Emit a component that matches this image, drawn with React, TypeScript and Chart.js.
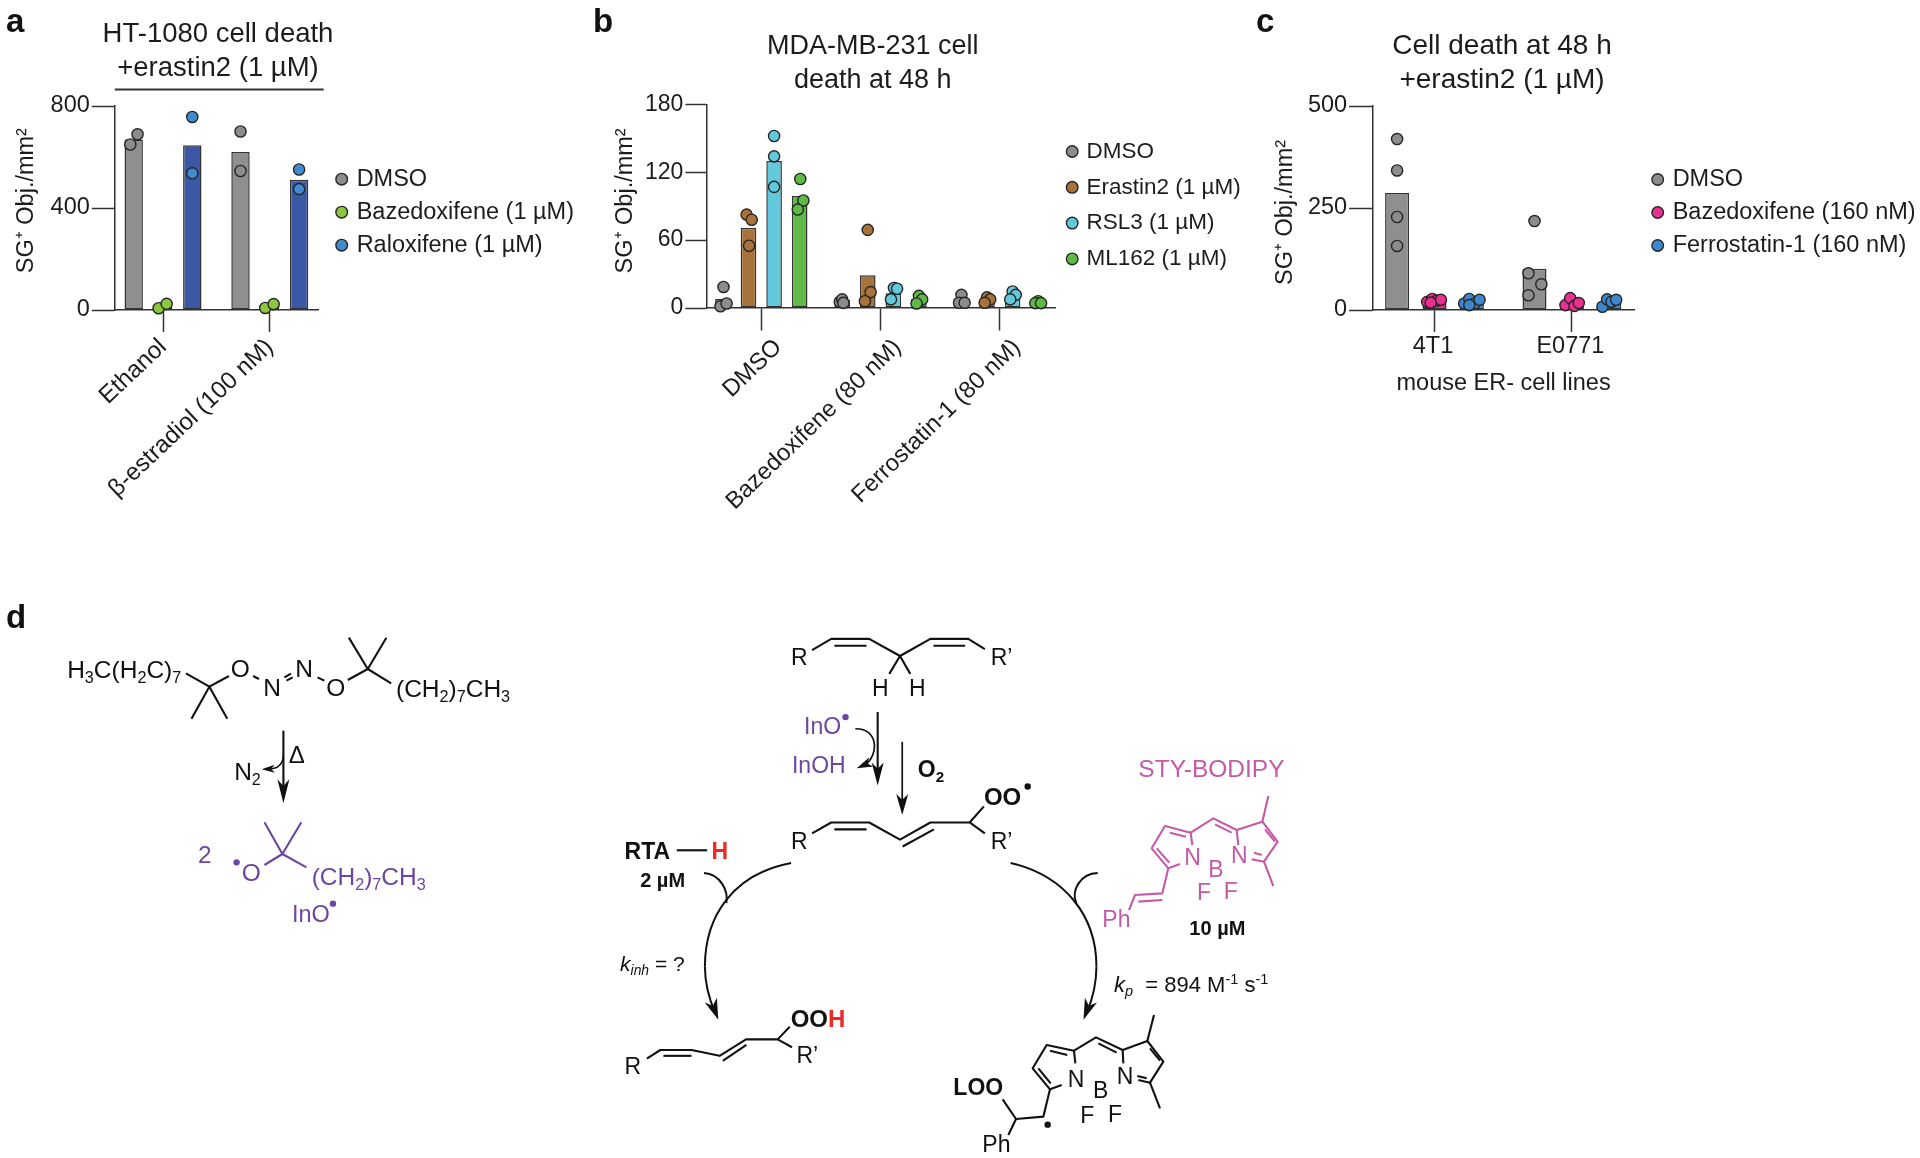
import React, { useEffect, useRef } from "react";
import { Chart, registerables } from "chart.js";

Chart.register(...registerables);

const FONT = "'Liberation Sans', Arial, sans-serif";
const INK = "#1c1c1c";
const Y_LABEL = "SG⁺ Obj./mm²";

// ---------- panel a ----------
const A_TITLE = ["HT-1080 cell death", "+erastin2 (1 µM)"];
const A_GROUPS = ["Ethanol", "β-estradiol (100 nM)"];
const A_TICKS = [0, 400, 800];
const A_NAMES = ["DMSO", "Bazedoxifene (1 µM)", "Raloxifene (1 µM)"];
const A_MEANS = [
  [669, 620],
  [16, 15],
  [646, 511],
];
const A_POINTS = [
  [[649, 689], [700, 545]],
  [[7, 24], [8, 23]],
  [[757, 536], [551, 474]],
];
const A_JITTER = [
  [[-0.032, 0.036], [0, 0]],
  [[-0.041, 0.034], [-0.043, 0.036]],
  [[0, 0], [0, 0]],
];

// ---------- panel b ----------
const B_TITLE = ["MDA-MB-231 cell", "death at 48 h"];
const B_GROUPS = ["DMSO", "Bazedoxifene (80 nM)", "Ferrostatin-1 (80 nM)"];
const B_TICKS = [0, 60, 120, 180];
const B_NAMES = ["DMSO", "Erastin2 (1 µM)", "RSL3 (1 µM)", "ML162 (1 µM)"];
const B_MEANS = [
  [8, 7, 8],
  [71, 29, 7],
  [130, 13, 10],
  [99, 8, 5],
];
const B_POINTS = [
  [[18.6, 1.5, 4], [5.5, 7.6, 4.5], [11.6, 4.6, 4.6]],
  [[82.5, 78, 55], [69, 14, 6], [9.4, 7.6, 4.6]],
  [[152, 134, 107], [17.7, 17, 7.6], [14.6, 11.6, 7.6]],
  [[114, 95, 87], [10.7, 7.6, 4], [6, 4.3, 4.3]],
];
const B_JITTER = [
  [[0.005, -0.02, 0.031], [-0.02, 0, 0.01], [0, -0.02, 0.027]],
  [[-0.016, 0.027, 0.005], [0, 0.024, -0.024], [0, 0.027, -0.02]],
  [[0, 0, 0], [0.005, 0.031, -0.02], [0, 0.027, -0.02]],
  [[0.005, 0.031, -0.016], [0, 0.027, -0.02], [0, -0.024, 0.024]],
];

// ---------- panel c ----------
const C_TITLE = ["Cell death at 48 h", "+erastin2 (1 µM)"];
const C_GROUPS = ["4T1", "E0771"];
const C_TICKS = [0, 250, 500];
const C_XLABEL = "mouse ER- cell lines";
const C_NAMES = ["DMSO", "Bazedoxifene (160 nM)", "Ferrostatin-1 (160 nM)"];
const C_MEANS = [
  [287, 101],
  [22, 17],
  [20, 19],
];
const C_POINTS = [
  [[419, 342, 228, 157], [218, 90, 63, 36]],
  [[20, 27, 23, 25, 18], [12, 29, 10, 17]],
  [[16, 27, 16, 25, 12], [8, 26, 20, 25]],
];
const C_JITTER = [
  [[0, 0, 0, 0], [0, -0.044, 0.05, -0.044]],
  [[-0.053, -0.016, 0.016, 0.047, -0.028], [-0.047, -0.012, 0.019, 0.05]],
  [[-0.056, -0.019, 0.019, 0.056, -0.019], [-0.05, -0.016, 0.016, 0.05]],
];

const PANELS: any[] = [
  {
    title: A_TITLE, groups: A_GROUPS, yTicks: A_TICKS, names: A_NAMES, means: A_MEANS, points: A_POINTS, jitter: A_JITTER,
    barFill: ["#8f8f8f", "#8ec63f", "#3a58a6"], dotFill: ["#8c8c8c", "#8ec63f", "#3f8bd0"],
    left: 0, width: 580, height: 540,
    axisX: 114.4, rightX: 318.4, topY: 106, bottomY: 310, x0: 163, step: 106.8,
    barStep: 0.2743, barPct: 0.628, tickLenY: 22.6, tickLenX: 22, rot: 43.5, tickPad: 1, xFont: 24.2, xOffset: 0,
    titleSize: 27.5, titleLH: 34.4, titleCenter: 218, titlePadTop: 17.3,
    font: 23.5, yFont: 23.5, yTitlePad: 12.1, yShift: -7.4,
    legendX: 341.7, legendY: 179.2, legendRow: 33, boxW: 6.4,
  },
  {
    title: B_TITLE, groups: B_GROUPS, yTicks: B_TICKS, names: B_NAMES, means: B_MEANS, points: B_POINTS, jitter: B_JITTER,
    barFill: ["#8c8c8c", "#a8733a", "#62c9dc", "#5eb947"], dotFill: ["#8c8c8c", "#a8733a", "#62c9dc", "#5eb947"],
    left: 580, width: 670, height: 540,
    axisX: 707, rightX: 1055.7, topY: 104.3, bottomY: 308, x0: 761.3, step: 119.25,
    barStep: 0.2146, barPct: 0.61, tickLenY: 21.6, tickLenX: 22.5, rot: 44, tickPad: 3, xFont: 23.8, xOffset: 17,
    titleSize: 27, titleLH: 34, titleCenter: 872.7, titlePadTop: 29.3,
    font: 22.5, yFont: 23, yTitlePad: 31.9, yShift: -5.3,
    legendX: 1072.2, legendY: 151.5, legendRow: 35.8, boxW: 6.2,
  },
  {
    title: C_TITLE, groups: C_GROUPS, yTicks: C_TICKS, names: C_NAMES, means: C_MEANS, points: C_POINTS, jitter: C_JITTER,
    barFill: ["#8f8f8f", "#e8308f", "#3d87cc"], dotFill: ["#8c8c8c", "#e8308f", "#3d87cc"],
    left: 1250, width: 670, height: 540,
    axisX: 1372.6, rightX: 1634.6, topY: 106, bottomY: 310, x0: 1434.5, step: 137.4,
    barStep: 0.2722, barPct: 0.642, tickLenY: 23.5, tickLenX: 22, rot: 0, tickPad: 0, xFont: 23.5, xOffset: -1.5,
    titleSize: 28, titleLH: 33.7, titleCenter: 1502, titlePadTop: 29.3,
    font: 23.5, yFont: 23.5, yTitlePad: 21.7, yShift: 4.5, xTitle: C_XLABEL, xTitlePad: 142,
    legendX: 1657.7, legendY: 179.5, legendRow: 33, boxW: 6.4,
  },
];

function buildChart(canvas: HTMLCanvasElement, p: any) {
  const n = p.names.length;
  const bars = p.means.map((vals: number[], s: number) => ({
    type: "bar",
    label: p.names[s] + " mean",
    data: vals.map((y, i) => ({ x: i, y })),
    backgroundColor: p.barFill[s],
    borderColor: "#333333",
    borderWidth: 1.5,
    borderSkipped: false,
    categoryPercentage: n * p.barStep,
    barPercentage: p.barPct,
    order: 2,
  }));
  const dots = p.points.map((groups: number[][], s: number) => ({
    type: "scatter",
    label: p.names[s],
    data: groups.flatMap((vals, i) =>
      vals.map((y, k) => ({ x: i + (s - (n - 1) / 2) * p.barStep + p.jitter[s][i][k], y }))
    ),
    backgroundColor: p.dotFill[s],
    borderColor: "#262626",
    borderWidth: 1.4,
    pointRadius: 5.6,
    pointStyle: "circle",
    clip: false,
    order: 1,
  }));
  const legendPad = p.legendRow - p.font;
  const boxH = 8.2;
  const place = {
    id: "place",
    afterLayout(chart: any) {
      const t = chart.titleBlock;
      const dx = p.titleCenter - p.left - (t.left + t.right) / 2;
      t.left += dx;
      t.right += dx;
      const l = chart.legend;
      l.left = p.legendX - p.left - legendPad - p.boxW / 2;
      l.right = l.left + 400;
      l.top = p.legendY - legendPad - p.font / 2;
      l.bottom = l.top + 300;
      const yScale = chart.scales.y;
      if (!yScale.__shifted) {
        yScale.__shifted = true;
        const orig = yScale.drawTitle;
        yScale.drawTitle = function () {
          chart.ctx.save();
          chart.ctx.translate(0, p.yShift);
          orig.call(yScale);
          chart.ctx.restore();
        };
      }
    },
  };
  return new Chart(canvas, {
    type: "bar",
    data: { datasets: [...bars, ...dots] },
    plugins: [place],
    options: {
      animation: false,
      responsive: false,
      maintainAspectRatio: false,
      layout: { padding: { left: 0, top: 0, bottom: 0, right: p.left + p.width - p.rightX } },
      plugins: {
        tooltip: { enabled: false },
        title: {
          display: true,
          text: p.title,
          color: INK,
          font: { family: FONT, size: p.titleSize, weight: "normal", lineHeight: p.titleLH + "px" },
          padding: { top: p.titlePadTop, bottom: p.topY - p.titlePadTop - 2 * p.titleLH },
        },
        legend: {
          display: true,
          position: "chartArea",
          align: "start",
          labels: {
            usePointStyle: true,
            pointStyle: "circle",
            boxWidth: p.boxW,
            boxHeight: boxH,
            padding: legendPad,
            color: INK,
            font: { family: FONT, size: p.font },
            filter: (item: any, d: any) => d.datasets[item.datasetIndex].type === "scatter",
          },
        },
      },
      scales: {
        x: {
          type: "linear",
          offset: false,
          min: (p.axisX - p.x0) / p.step,
          max: (p.rightX - p.x0) / p.step,
          afterBuildTicks: (axis: any) => {
            axis.ticks = p.groups.map((_: string, i: number) => ({ value: i }));
          },
          afterFit: (axis: any) => {
            axis.height = p.height - p.bottomY;
          },
          grid: { offset: false, drawOnChartArea: false, drawTicks: true, tickLength: p.tickLenX, tickWidth: 1.5, tickColor: "#333333" },
          border: { display: true, color: "#333333", width: 1.5 },
          title: p.xTitle
            ? { display: true, text: p.xTitle, color: INK, font: { family: FONT, size: p.font }, padding: { top: 0, bottom: p.xTitlePad } }
            : { display: false },
          ticks: {
            autoSkip: false,
            minRotation: p.rot,
            maxRotation: p.rot,
            padding: p.tickPad,
            labelOffset: p.xOffset,
            color: INK,
            font: { family: FONT, size: p.xFont },
            callback: (v: number) => p.groups[v],
          },
        },
        y: {
          type: "linear",
          min: 0,
          max: p.yTicks[p.yTicks.length - 1],
          afterBuildTicks: (axis: any) => {
            axis.ticks = p.yTicks.map((value: number) => ({ value }));
          },
          afterFit: (axis: any) => {
            axis.width = p.axisX - p.left;
          },
          grid: { drawOnChartArea: false, drawTicks: true, tickLength: p.tickLenY, tickWidth: 1.5, tickColor: "#333333" },
          border: { display: true, color: "#333333", width: 1.5 },
          title: {
            display: true,
            text: Y_LABEL,
            color: INK,
            font: { family: FONT, size: 23.5 },
            padding: { top: p.yTitlePad, bottom: 0 },
          },
          ticks: { padding: 2, color: INK, font: { family: FONT, size: p.yFont } },
        },
      },
    } as any,
  } as any);
}

// ---------- chemistry scheme helpers ----------
type Pt = [number, number];
const mk = (ox: number, oy: number, fx: number, fy: number) => (x: number, y: number): Pt => [ox + x / fx, oy + y / fy];
const A = mk(0, 590, 2.904, 3);
const B = mk(600, 620, 2.24, 2.914);
const C = mk(950, 720, 3, 3);
const BLACK = "#111111";
const PURPLE = "#6d46a0";
const PINK = "#c45aa8";
const RED = "#ee2a24";

function Bond({ m, pts, c = BLACK, w = 2.1 }: any) {
  const s = pts.map(([x, y]: Pt) => m(x, y).join(",")).join(" ");
  return <polyline points={s} fill="none" stroke={c} strokeWidth={w} strokeLinejoin="round" />;
}

function Curve({ m, pts, c = BLACK, w = 2 }: any) {
  const q = pts.map(([x, y]: Pt) => m(x, y).join(" "));
  return <path d={`M${q[0]} C${q.slice(1).join(" ")}`} fill="none" stroke={c} strokeWidth={w} />;
}

function Head({ m, tip, from, len = 21, hw = 6.5, c = BLACK }: any) {
  const t = m(tip[0], tip[1]);
  const f = m(from[0], from[1]);
  const d = Math.hypot(t[0] - f[0], t[1] - f[1]);
  const ux = (t[0] - f[0]) / d;
  const uy = (t[1] - f[1]) / d;
  const bx = t[0] - ux * len;
  const by = t[1] - uy * len;
  const nx = t[0] - ux * len * 0.72;
  const ny = t[1] - uy * len * 0.72;
  const pts = [t, [bx - uy * hw, by + ux * hw], [nx, ny], [bx + uy * hw, by - ux * hw]];
  return <polygon points={pts.map((q) => q.join(",")).join(" ")} fill={c} />;
}

function Dot({ m, x, y, r = 3.2, c = BLACK }: any) {
  const q = m(x, y);
  return <circle cx={q[0]} cy={q[1]} r={r} fill={c} />;
}

function Txt({ m, x, y, s = 23, c = BLACK, b = false, i = false, a = "start", t }: any) {
  const q = m(x, y);
  const segs: any[] = typeof t === "string" ? [[t, 0]] : t;
  let shift = 0;
  return (
    <text x={q[0]} y={q[1]} fontSize={s} fill={c} textAnchor={a} fontWeight={b ? "bold" : "normal"} fontStyle={i ? "italic" : "normal"} fontFamily={FONT} style={{ whiteSpace: "pre" }}>
      {segs.map(([str, kind, col, it], k) => {
        const target = kind === 1 ? 0.2 * s : kind === 2 ? -0.36 * s : 0;
        const dy = target - shift;
        shift = target;
        return (
          <tspan key={k} dy={dy} fontSize={kind ? s * 0.66 : s} fill={col || c} fontStyle={it ? "italic" : undefined}>
            {str}
          </tspan>
        );
      })}
    </text>
  );
}

const id = (x: number, y: number): Pt => [x, y];

function Scheme() {
  return (
    <svg width={1920} height={1158} style={{ position: "absolute", left: 0, top: 0, pointerEvents: "none" }}>
      <Txt m={id} x={6} y={31.7} s={33} b t="a" />
      <Txt m={id} x={593} y={31.7} s={33} b t="b" />
      <Txt m={id} x={1256} y={31.7} s={33} b t="c" />
      <Txt m={id} x={6} y={628.3} s={33} b t="d" />
      <line x1={114.8} x2={323.7} y1={89.5} y2={89.5} stroke="#333333" strokeWidth={1.8} />

      {/* initiator */}
      <Txt m={A} x={195} y={265} s={24.5} t={[["H", 0], ["3", 1], ["C(H", 0], ["2", 1], ["C)", 0], ["7", 1]]} />
      <Bond m={A} pts={[[540, 250], [608, 290], [665, 258]]} />
      <Bond m={A} pts={[[556, 386], [608, 290], [660, 386]]} />
      <Txt m={A} x={698} y={262} s={24.5} a="middle" t="O" />
      <Bond m={A} pts={[[735, 258], [752, 267]]} />
      <Txt m={A} x={790} y={318} s={24.5} a="middle" t="N" />
      <Bond m={A} pts={[[826, 262], [845, 251]]} />
      <Bond m={A} pts={[[832, 272], [850, 262]]} />
      <Txt m={A} x={883} y={262} s={24.5} a="middle" t="N" />
      <Bond m={A} pts={[[922, 262], [942, 272]]} />
      <Txt m={A} x={975} y={318} s={24.5} a="middle" t="O" />
      <Bond m={A} pts={[[1010, 270], [1068, 237], [1136, 280]]} />
      <Bond m={A} pts={[[1013, 143], [1068, 237], [1122, 143]]} />
      <Txt m={A} x={1150} y={322} s={24.5} t={[["(CH", 0], ["2", 1], [")", 0], ["7", 1], ["CH", 0], ["3", 1]]} />
      <Bond m={A} pts={[[823, 422], [823, 600]]} />
      <Head m={A} tip={[823, 640]} from={[823, 500]} len={24} hw={6} />
      <Curve m={A} pts={[[823, 495], [822, 525], [805, 537], [780, 537]]} w={1.6} />
      <Head m={A} tip={[760, 538]} from={[810, 536]} len={13} hw={4} />
      <Txt m={A} x={862} y={520} s={24} a="middle" t="Δ" />
      <Txt m={A} x={680} y={570} s={24.5} t={[["N", 0], ["2", 1]]} />
      <Txt m={A} x={575} y={820} s={24.5} c={PURPLE} t="2" />
      <Dot m={A} x={687} y={817} c={PURPLE} />
      <Txt m={A} x={730} y={872} s={24.5} c={PURPLE} a="middle" t="O" />
      <Bond m={A} c={PURPLE} pts={[[768, 825], [820, 792], [890, 832]]} />
      <Bond m={A} c={PURPLE} pts={[[768, 697], [820, 792], [875, 697]]} />
      <Txt m={A} x={905} y={885} s={24.5} c={PURPLE} t={[["(CH", 0], ["2", 1], [")", 0], ["7", 1], ["CH", 0], ["3", 1]]} />
      <Txt m={A} x={848} y={995} s={23.5} c={PURPLE} t="InO" />
      <Dot m={A} x={967} y={941} c={PURPLE} />

      {/* top lipid */}
      <Txt m={B} x={428} y={130} t="R" />
      <Txt m={B} x={875} y={130} t="R’" />
      <Bond m={B} pts={[[475, 88], [518, 55], [603, 55], [672, 105], [740, 55], [825, 55], [862, 85]]} />
      <Bond m={B} pts={[[525, 75], [597, 75]]} />
      <Bond m={B} pts={[[747, 75], [818, 75]]} />
      <Bond m={B} pts={[[648, 157], [672, 105], [695, 157]]} />
      <Txt m={B} x={628} y={222} a="middle" t="H" />
      <Txt m={B} x={711} y={222} a="middle" t="H" />
      <Bond m={B} pts={[[622, 268], [622, 450]]} />
      <Head m={B} tip={[622, 482]} from={[622, 400]} len={23} hw={6} />
      <Bond m={B} pts={[[677, 355], [677, 530]]} w={1.7} />
      <Head m={B} tip={[677, 568]} from={[677, 480]} len={21} hw={6} />
      <Txt m={B} x={457} y={333} s={23} c={PURPLE} t="InO" />
      <Dot m={B} x={550} y={283} c={PURPLE} />
      <Txt m={B} x={430} y={445} s={23} c={PURPLE} t="InOH" />
      <Curve m={B} pts={[[572, 317], [625, 315], [625, 395], [592, 425]]} w={1.7} />
      <Head m={B} tip={[575, 432]} from={[610, 412]} len={16} hw={5} />
      <Txt m={B} x={712} y={458} s={23} b t={[["O", 0], ["2", 1]]} />

      {/* peroxyl */}
      <Txt m={B} x={428} y={667} t="R" />
      <Txt m={B} x={875} y={667} t="R’" />
      <Bond m={B} pts={[[475, 622], [518, 590], [603, 590], [672, 640], [740, 590], [828, 590], [862, 622]]} />
      <Bond m={B} pts={[[525, 610], [597, 610]]} />
      <Bond m={B} pts={[[678, 660], [748, 610]]} />
      <Bond m={B} pts={[[828, 590], [860, 543]]} />
      <Txt m={B} x={860} y={540} s={24} b t="OO" />
      <Dot m={B} x={958} y={485} />
      <Txt m={B} x={55} y={695} s={23} b t="RTA" />
      <Bond m={B} pts={[[172, 671], [240, 671]]} />
      <Txt m={B} x={250} y={695} s={23} b c={RED} t="H" />
      <Txt m={B} x={90} y={778} s={20} b t="2 µM" />

      {/* arcs */}
      <Curve m={B} pts={[[428, 708], [300, 740], [235, 860], [235, 1010]]} />
      <Curve m={B} pts={[[235, 1010], [235, 1070], [248, 1115], [258, 1145]]} />
      <Head m={B} tip={[265, 1165]} from={[243, 1090]} len={21} hw={6.5} />
      <Curve m={B} pts={[[233, 737], [270, 740], [288, 790], [283, 825]]} />
      <Curve m={B} pts={[[920, 708], [1040, 745], [1112, 860], [1112, 1010]]} />
      <Curve m={B} pts={[[1112, 1010], [1112, 1070], [1100, 1115], [1090, 1145]]} />
      <Head m={B} tip={[1083, 1165]} from={[1105, 1090]} len={21} hw={6.5} />
      <Curve m={B} pts={[[1115, 737], [1075, 738], [1055, 790], [1067, 825]]} />
      <Txt m={B} x={45} y={1022} s={21} t={[["k", 0, null, true], ["inh", 1, null, true], [" = ?", 0]]} />
      <Txt m={C} x={492} y={815} s={22} t={[["k", 0, null, true], ["p", 1, null, true], ["  = 894 M", 0], ["-1", 2], [" s", 0], ["-1", 2]]} />

      {/* hydroperoxide */}
      <Txt m={B} x={55} y={1322} t="R" />
      <Txt m={B} x={440} y={1292} t="R’" />
      <Bond m={B} pts={[[105, 1278], [135, 1253], [205, 1253], [268, 1270], [327, 1222], [398, 1222], [430, 1245]]} />
      <Bond m={B} pts={[[142, 1270], [205, 1270]]} />
      <Bond m={B} pts={[[275, 1285], [328, 1238]]} />
      <Bond m={B} pts={[[398, 1222], [425, 1185]]} />
      <Txt m={B} x={427} y={1185} s={24} b t={[["OO", 0], ["H", 0, RED]]} />

      {/* STY-BODIPY */}
      <Txt m={C} x={565} y={172} s={24.5} c={PINK} t="STY-BODIPY" />
      <Bond m={C} c={PINK} pts={[[727, 375], [722, 338], [645, 318], [605, 385], [655, 445], [690, 432]]} />
      <Bond m={C} c={PINK} pts={[[660, 338], [708, 350]]} />
      <Bond m={C} c={PINK} pts={[[620, 385], [658, 428]]} />
      <Bond m={C} c={PINK} pts={[[722, 338], [790, 295], [860, 330]]} />
      <Bond m={C} c={PINK} pts={[[795, 313], [845, 338]]} />
      <Bond m={C} c={PINK} pts={[[865, 375], [860, 330], [937, 305], [983, 365], [942, 425], [905, 418]]} />
      <Bond m={C} c={PINK} pts={[[945, 328], [975, 365]]} />
      <Bond m={C} c={PINK} pts={[[912, 398], [935, 405]]} />
      <Bond m={C} c={PINK} pts={[[955, 228], [937, 305]]} />
      <Bond m={C} c={PINK} pts={[[942, 425], [970, 498]]} />
      <Bond m={C} c={PINK} pts={[[655, 445], [637, 520], [555, 525], [537, 570]]} />
      <Bond m={C} c={PINK} pts={[[565, 545], [637, 540]]} />
      <Txt m={C} x={728} y={435} c={PINK} a="middle" t="N" />
      <Txt m={C} x={868} y={430} c={PINK} a="middle" t="N" />
      <Txt m={C} x={798} y={472} c={PINK} a="middle" t="B" />
      <Txt m={C} x={762} y={540} c={PINK} a="middle" t="F" />
      <Txt m={C} x={842} y={538} c={PINK} a="middle" t="F" />
      <Txt m={C} x={457} y={622} c={PINK} t="Ph" />
      <Txt m={C} x={718} y={645} s={20} b t="10 µM" />

      {/* LOO adduct */}
      <Bond m={C} pts={[[376, 1030], [372, 992], [290, 975], [248, 1045], [300, 1108], [335, 1095]]} />
      <Bond m={C} pts={[[300, 992], [352, 1005]]} />
      <Bond m={C} pts={[[265, 1045], [302, 1090]]} />
      <Bond m={C} pts={[[372, 992], [438, 952], [518, 990]]} />
      <Bond m={C} pts={[[445, 970], [500, 998]]} />
      <Bond m={C} pts={[[520, 1030], [518, 990], [592, 963], [640, 1025], [600, 1088], [565, 1080]]} />
      <Bond m={C} pts={[[600, 985], [630, 1022]]} />
      <Bond m={C} pts={[[562, 1068], [590, 1075]]} />
      <Bond m={C} pts={[[612, 885], [592, 963]]} />
      <Bond m={C} pts={[[600, 1088], [630, 1165]]} />
      <Bond m={C} pts={[[300, 1108], [280, 1190], [198, 1197], [158, 1138]]} />
      <Bond m={C} pts={[[198, 1197], [175, 1245]]} />
      <Txt m={C} x={378} y={1100} a="middle" t="N" />
      <Txt m={C} x={525} y={1092} a="middle" t="N" />
      <Txt m={C} x={452} y={1135} a="middle" t="B" />
      <Txt m={C} x={412} y={1208} a="middle" t="F" />
      <Txt m={C} x={495} y={1205} a="middle" t="F" />
      <Txt m={C} x={10} y={1125} s={23} b t="LOO" />
      <Txt m={C} x={97} y={1295} t="Ph" />
      <Dot m={C} x={293} y={1214} />
    </svg>
  );
}

export default function App() {
  const refs = useRef<(HTMLCanvasElement | null)[]>([]);
  useEffect(() => {
    const charts = PANELS.map((p, i) => buildChart(refs.current[i] as HTMLCanvasElement, p));
    return () => charts.forEach((c) => c.destroy());
  }, []);
  return (
    <div style={{ position: "absolute", left: 0, top: 0, width: 1920, height: 1158, background: "#ffffff", overflow: "hidden" }}>
      {PANELS.map((p, i) => (
        <canvas
          key={i}
          ref={(el) => {
            refs.current[i] = el;
          }}
          width={p.width}
          height={p.height}
          style={{ position: "absolute", left: p.left, top: 0, width: p.width, height: p.height }}
        />
      ))}
      <Scheme />
    </div>
  );
}
